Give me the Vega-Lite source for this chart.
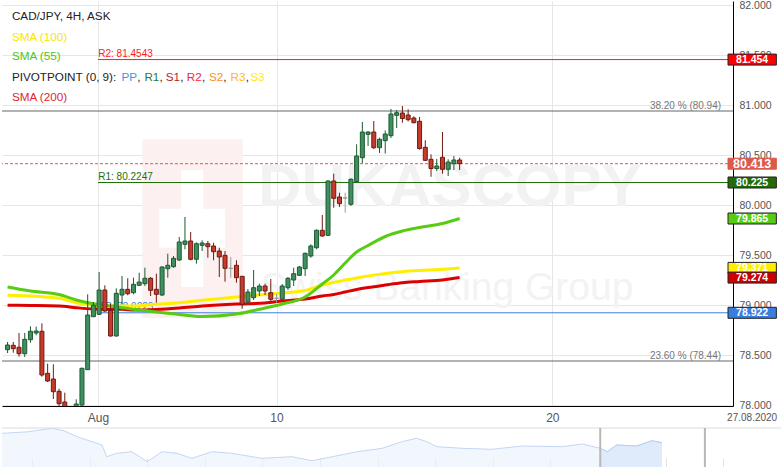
{
  "$schema": "https://vega.github.io/schema/vega-lite/v6.json",
  "padding": 0,
  "spacing": 3,
  "background": "white",
  "config": {"view": {"stroke": null}, "font": "Liberation Sans", "text": {"font": "Liberation Sans"}},
  "datasets": {
    "candles": [
      {"i":0,"o":78.553,"h":78.63,"l":78.52,"c":78.60},
      {"i":1,"o":78.597,"h":78.63,"l":78.523,"c":78.563},
      {"i":2,"o":78.577,"h":78.72,"l":78.483,"c":78.513},
      {"i":3,"o":78.513,"h":78.72,"l":78.48,"c":78.657},
      {"i":4,"o":78.653,"h":78.787,"l":78.623,"c":78.737},
      {"i":5,"o":78.72,"h":78.783,"l":78.697,"c":78.74},
      {"i":6,"o":78.737,"h":78.817,"l":78.283,"c":78.30},
      {"i":7,"o":78.317,"h":78.413,"l":78.23,"c":78.24},
      {"i":8,"o":78.26,"h":78.407,"l":78.06,"c":78.133},
      {"i":9,"o":78.137,"h":78.163,"l":77.973,"c":78.013},
      {"i":10,"o":78.03,"h":78.123,"l":77.92,"c":77.95},
      {"i":11,"o":77.95,"h":77.985,"l":77.86,"c":77.96},
      {"i":12,"o":77.96,"h":78.057,"l":77.93,"c":78.01},
      {"i":13,"o":78.0,"h":78.373,"l":77.97,"c":78.367},
      {"i":14,"o":78.353,"h":79.107,"l":78.35,"c":78.90},
      {"i":15,"o":78.883,"h":79.03,"l":78.88,"c":78.997},
      {"i":16,"o":78.907,"h":79.33,"l":78.9,"c":79.15},
      {"i":17,"o":79.15,"h":79.197,"l":78.93,"c":78.94},
      {"i":18,"o":78.947,"h":79.013,"l":78.683,"c":78.69},
      {"i":19,"o":78.69,"h":79.167,"l":78.685,"c":79.117},
      {"i":20,"o":79.10,"h":79.29,"l":79.007,"c":79.157},
      {"i":21,"o":79.157,"h":79.267,"l":79.097,"c":79.113},
      {"i":22,"o":79.123,"h":79.273,"l":79.107,"c":79.207},
      {"i":23,"o":79.197,"h":79.323,"l":79.19,"c":79.23},
      {"i":24,"o":79.213,"h":79.373,"l":79.19,"c":79.267},
      {"i":25,"o":79.267,"h":79.28,"l":79.09,"c":79.147},
      {"i":26,"o":79.157,"h":79.313,"l":79.023,"c":79.107},
      {"i":27,"o":79.10,"h":79.387,"l":79.09,"c":79.38},
      {"i":28,"o":79.363,"h":79.513,"l":79.273,"c":79.397},
      {"i":29,"o":79.383,"h":79.49,"l":79.373,"c":79.467},
      {"i":30,"o":79.45,"h":79.68,"l":79.44,"c":79.63},
      {"i":31,"o":79.607,"h":79.88,"l":79.557,"c":79.64},
      {"i":32,"o":79.64,"h":79.73,"l":79.447,"c":79.457},
      {"i":33,"o":79.457,"h":79.627,"l":79.413,"c":79.613},
      {"i":34,"o":79.597,"h":79.647,"l":79.54,"c":79.62},
      {"i":35,"o":79.613,"h":79.64,"l":79.473,"c":79.583},
      {"i":36,"o":79.59,"h":79.623,"l":79.447,"c":79.533},
      {"i":37,"o":79.54,"h":79.573,"l":79.28,"c":79.48},
      {"i":38,"o":79.497,"h":79.54,"l":79.233,"c":79.367},
      {"i":39,"o":79.367,"h":79.48,"l":79.273,"c":79.367},
      {"i":40,"o":79.397,"h":79.447,"l":79.223,"c":79.273},
      {"i":41,"o":79.287,"h":79.29,"l":78.963,"c":79.007},
      {"i":42,"o":79.03,"h":79.16,"l":79.0,"c":79.13},
      {"i":43,"o":79.073,"h":79.35,"l":79.05,"c":79.173},
      {"i":44,"o":79.14,"h":79.213,"l":79.09,"c":79.19},
      {"i":45,"o":79.19,"h":79.213,"l":79.10,"c":79.14},
      {"i":46,"o":79.123,"h":79.26,"l":79.04,"c":79.057},
      {"i":47,"o":79.067,"h":79.11,"l":79.023,"c":79.067},
      {"i":48,"o":79.057,"h":79.21,"l":79.05,"c":79.19},
      {"i":49,"o":79.173,"h":79.28,"l":79.15,"c":79.267},
      {"i":50,"o":79.25,"h":79.373,"l":79.19,"c":79.313},
      {"i":51,"o":79.297,"h":79.39,"l":79.29,"c":79.38},
      {"i":52,"o":79.363,"h":79.523,"l":79.29,"c":79.517},
      {"i":53,"o":79.49,"h":79.607,"l":79.473,"c":79.59},
      {"i":54,"o":79.573,"h":79.757,"l":79.557,"c":79.747},
      {"i":55,"o":79.747,"h":79.90,"l":79.683,"c":79.69},
      {"i":56,"o":79.697,"h":80.247,"l":79.69,"c":80.24},
      {"i":57,"o":80.24,"h":80.313,"l":79.973,"c":80.067},
      {"i":58,"o":80.08,"h":80.123,"l":79.98,"c":80.013},
      {"i":59,"o":80.07,"h":80.123,"l":79.923,"c":80.07},
      {"i":60,"o":80.007,"h":80.267,"l":79.99,"c":80.257},
      {"i":61,"o":80.233,"h":80.607,"l":80.223,"c":80.49},
      {"i":62,"o":80.473,"h":80.83,"l":80.42,"c":80.73},
      {"i":63,"o":80.707,"h":80.735,"l":80.59,"c":80.73},
      {"i":64,"o":80.73,"h":80.84,"l":80.56,"c":80.573},
      {"i":65,"o":80.573,"h":80.673,"l":80.52,"c":80.657},
      {"i":66,"o":80.643,"h":80.745,"l":80.515,"c":80.71},
      {"i":67,"o":80.693,"h":80.96,"l":80.67,"c":80.91},
      {"i":68,"o":80.897,"h":80.95,"l":80.77,"c":80.923},
      {"i":69,"o":80.92,"h":80.99,"l":80.823,"c":80.865},
      {"i":70,"o":80.90,"h":80.957,"l":80.835,"c":80.853},
      {"i":71,"o":80.87,"h":80.887,"l":80.817,"c":80.823},
      {"i":72,"o":80.837,"h":80.88,"l":80.553,"c":80.565},
      {"i":73,"o":80.577,"h":80.648,"l":80.44,"c":80.447},
      {"i":74,"o":80.457,"h":80.507,"l":80.282,"c":80.365},
      {"i":75,"o":80.365,"h":80.46,"l":80.34,"c":80.39},
      {"i":76,"o":80.477,"h":80.73,"l":80.313,"c":80.357},
      {"i":77,"o":80.357,"h":80.457,"l":80.29,"c":80.43},
      {"i":78,"o":80.413,"h":80.49,"l":80.35,"c":80.45},
      {"i":79,"o":80.45,"h":80.473,"l":80.35,"c":80.413}
    ],
    "sma": [
      {"i":0,"s55":79.18,"s100":79.097,"s200":78.997},
      {"i":4,"s55":79.14,"s100":79.09,"s200":78.995},
      {"i":9,"s55":79.105,"s100":79.067,"s200":78.99},
      {"i":12,"s55":79.05,"s100":79.023,"s200":78.973},
      {"i":15,"s55":79.013,"s100":78.997,"s200":78.96},
      {"i":17,"s55":78.997,"s100":78.99,"s200":78.957},
      {"i":20,"s55":78.973,"s100":78.99,"s200":78.957},
      {"i":22,"s55":78.957,"s100":78.99,"s200":78.95},
      {"i":26,"s55":78.93,"s100":79.007,"s200":78.955},
      {"i":30,"s55":78.905,"s100":79.023,"s200":78.97},
      {"i":34,"s55":78.885,"s100":79.047,"s200":78.99},
      {"i":40,"s55":78.91,"s100":79.08,"s200":79.01},
      {"i":45,"s55":78.97,"s100":79.105,"s200":79.02},
      {"i":48,"s55":79.01,"s100":79.12,"s200":79.04},
      {"i":52,"s55":79.08,"s100":79.145,"s200":79.06},
      {"i":55,"s55":79.21,"s100":79.20,"s200":79.09},
      {"i":57,"s55":79.30,"s100":79.225,"s200":79.105},
      {"i":59,"s55":79.42,"s100":79.25,"s200":79.13},
      {"i":61,"s55":79.53,"s100":79.27,"s200":79.155},
      {"i":63,"s55":79.595,"s100":79.29,"s200":79.175},
      {"i":66,"s55":79.685,"s100":79.315,"s200":79.20},
      {"i":69,"s55":79.74,"s100":79.333,"s200":79.223},
      {"i":72,"s55":79.775,"s100":79.345,"s200":79.235},
      {"i":76,"s55":79.815,"s100":79.357,"s200":79.25},
      {"i":79,"s55":79.865,"s100":79.371,"s200":79.274}
    ],
    "pivots": [
      {"k":"R2","p":81.4543,"t":"R2: 81.4543"},
      {"k":"R1","p":80.2247,"t":"R1: 80.2247"},
      {"k":"PP","p":78.9223,"t":"PP: 78.9223"}
    ],
    "fibs": [
      {"p":80.94,"t":"38.20 % (80.94)"},
      {"p":78.44,"t":"23.60 % (78.44)"}
    ],
    "boxes": [
      {"k":"R2","p":81.454,"t":"81.454"},
      {"k":"last","p":80.413,"t":"80.413"},
      {"k":"R1","p":80.225,"t":"80.225"},
      {"k":"S55","p":79.865,"t":"79.865"},
      {"k":"S100","p":79.371,"t":"79.371"},
      {"k":"S200","p":79.274,"t":"79.274"},
      {"k":"PP","p":78.922,"t":"78.922"}
    ],
    "nav": [
      {"n":0,"v":80.956},{"n":3.2,"v":81.1},{"n":6.4,"v":81.469},{"n":8.0,"v":81.2},{"n":9.6,"v":80.608},
      {"n":12.8,"v":79.756},{"n":13.4,"v":78.556},{"n":14.7,"v":78.905},{"n":16.6,"v":79.069},
      {"n":18.6,"v":78.044},{"n":20.5,"v":79.069},{"n":22.4,"v":78.905},{"n":24.3,"v":78.392},
      {"n":26.9,"v":79.069},{"n":29.4,"v":78.905},{"n":33.3,"v":78.392},{"n":37.1,"v":78.556},
      {"n":39.7,"v":78.146},{"n":42.3,"v":78.556},{"n":45.5,"v":79.069},{"n":48.7,"v":79.418},
      {"n":51.2,"v":80.095},{"n":53.1,"v":80.444},{"n":54.4,"v":80.095},{"n":55.7,"v":79.582},
      {"n":58.9,"v":79.418},{"n":62.7,"v":79.315},{"n":66.6,"v":79.654},{"n":71.7,"v":79.582},
      {"n":74.3,"v":79.859},{"n":76.6,"v":79.418},{"n":77.5,"v":79.069},{"n":78.7,"v":79.756},
      {"n":81.3,"v":79.654},{"n":83.2,"v":80.197},{"n":84.5,"v":79.992}
    ]
  },
  "vconcat": [
    {
      "width": 731,
      "height": 405,
      "layer": [
        {"data": {"name": "candles"}, "mark": {"type": "rule", "strokeWidth": 1, "opacity": 0},
         "encoding": {
           "x": {"field": "i", "type": "quantitative", "scale": {"domain": [-0.1, 125.9], "nice": false, "zero": false},
                 "axis": {"values": [15.8, 47, 95.2], "labelExpr": "datum.value < 30 ? 'Aug' : (datum.value < 70 ? '10' : '20')", "title": null, "grid": true, "gridColor": "#e6e6e6", "ticks": false, "domainColor": "#000000", "labelColor": "#555555", "labelFontSize": 12, "labelPadding": 6, "labelFlush": false}},
           "y": {"field": "l", "type": "quantitative", "scale": {"domain": [77.99, 82.04], "nice": false, "zero": false},
                 "axis": {"orient": "right", "values": [78, 78.5, 79, 79.5, 80, 80.5, 81, 81.5, 82], "format": ".3f", "title": null, "grid": true, "gridColor": "#e6e6e6", "ticks": false, "domainColor": "#000000", "labelColor": "#555555", "labelFontSize": 10.5, "labelPadding": 6}},
           "y2": {"field": "h"}
         }},
        {"data": {"values": [{}]}, "mark": {"type": "rect", "color": "#fcf0f0"},
         "encoding": {"x": {"datum": 23.57}, "x2": {"datum": 41.1}, "y": {"datum": 80.657}, "y2": {"datum": 78.87}}},
        {"data": {"values": [{}]}, "mark": {"type": "rect", "color": "#ffffff"},
         "encoding": {"x": {"datum": 30.36}, "x2": {"datum": 34.2}, "y": {"datum": 80.35}, "y2": {"datum": 79.18}}},
        {"data": {"values": [{}]}, "mark": {"type": "rect", "color": "#ffffff"},
         "encoding": {"x": {"datum": 26.5}, "x2": {"datum": 38.0}, "y": {"datum": 79.963}, "y2": {"datum": 79.573}}},
        {"data": {"values": [{}]}, "mark": {"type": "text", "text": "DUKASCOPY", "fontSize": 60, "fontWeight": "bold", "color": "#f2f2f2", "align": "center", "baseline": "middle"},
         "encoding": {"x": {"datum": 77.29}, "y": {"datum": 80.17}}},
        {"data": {"values": [{}]}, "mark": {"type": "text", "text": "Swiss Banking Group", "fontSize": 39, "color": "#f3f3f3", "align": "center", "baseline": "middle"},
         "encoding": {"x": {"datum": 76.78}, "y": {"datum": 79.17}}},
        {"data": {"name": "fibs"}, "mark": {"type": "rule", "color": "#666666", "strokeWidth": 1},
         "encoding": {"y": {"field": "p", "type": "quantitative"}}},
        {"data": {"name": "fibs"}, "mark": {"type": "text", "color": "#777777", "fontSize": 10, "align": "right", "baseline": "middle", "dy": -5.5},
         "encoding": {"x": {"datum": 124.69}, "y": {"field": "p", "type": "quantitative"}, "text": {"field": "t"}}},
        {"data": {"values": [{"p": 80.413}]}, "mark": {"type": "rule", "color": "#e0584a", "strokeWidth": 1, "strokeDash": [3, 2]},
         "encoding": {"y": {"field": "p", "type": "quantitative"}}},
        {"data": {"name": "pivots"}, "mark": {"type": "rule", "strokeWidth": 1},
         "encoding": {"x": {"datum": 15.8}, "x2": {"datum": 125.9}, "y": {"field": "p", "type": "quantitative"},
           "color": {"field": "k", "type": "nominal", "scale": {"domain": ["R2", "R1", "PP"], "range": ["#ff1a1a", "#1f6e06", "#3f82e0"]}, "legend": null}}},
        {"data": {"name": "pivots"}, "mark": {"type": "text", "fontSize": 10, "align": "left", "baseline": "middle", "dy": -5.5},
         "encoding": {"x": {"datum": 15.85}, "y": {"field": "p", "type": "quantitative"}, "text": {"field": "t"},
           "color": {"field": "k", "type": "nominal", "legend": null}}},
        {"data": {"name": "sma"}, "mark": {"type": "line", "color": "#dd0000", "strokeWidth": 3, "interpolate": "monotone", "clip": true},
         "encoding": {"x": {"field": "i", "type": "quantitative"}, "y": {"field": "s200", "type": "quantitative"}}},
        {"data": {"name": "sma"}, "mark": {"type": "line", "color": "#ffee00", "strokeWidth": 3, "interpolate": "monotone", "clip": true},
         "encoding": {"x": {"field": "i", "type": "quantitative"}, "y": {"field": "s100", "type": "quantitative"}}},
        {"data": {"name": "sma"}, "mark": {"type": "line", "color": "#58cc12", "strokeWidth": 3, "interpolate": "monotone", "clip": true},
         "encoding": {"x": {"field": "i", "type": "quantitative"}, "y": {"field": "s55", "type": "quantitative"}}},
        {"data": {"name": "candles"}, "mark": {"type": "rule", "strokeWidth": 1, "clip": true},
         "encoding": {"x": {"field": "i", "type": "quantitative"}, "y": {"field": "l", "type": "quantitative"}, "y2": {"field": "h"},
           "stroke": {"condition": [{"test": "datum.c > datum.o", "value": "#1c5a30"}, {"test": "datum.c < datum.o", "value": "#6e1a10"}], "value": "#999999"}}},
        {"data": {"name": "candles"}, "mark": {"type": "bar", "width": 4, "strokeWidth": 1, "clip": true},
         "encoding": {"x": {"field": "i", "type": "quantitative"}, "y": {"field": "o", "type": "quantitative"}, "y2": {"field": "c"},
           "fill": {"condition": [{"test": "datum.c > datum.o", "value": "#3f8f60"}, {"test": "datum.c < datum.o", "value": "#c63b2b"}], "value": "#999999"},
           "stroke": {"condition": [{"test": "datum.c > datum.o", "value": "#1c5a30"}, {"test": "datum.c < datum.o", "value": "#6e1a10"}], "value": "#999999"}}},
        {"data": {"values": [{}]}, "mark": {"type": "text", "text": "CAD/JPY, 4H, ASK", "fontSize": 11.7, "color": "#222222", "align": "left", "baseline": "middle"},
         "encoding": {"x": {"datum": 0.76}, "y": {"datum": 81.89}}},
        {"data": {"values": [{}]}, "mark": {"type": "text", "text": "SMA (100)", "fontSize": 11.7, "color": "#f7e600", "align": "left", "baseline": "middle"},
         "encoding": {"x": {"datum": 0.76}, "y": {"datum": 81.683}}},
        {"data": {"values": [{}]}, "mark": {"type": "text", "text": "SMA (55)", "fontSize": 11.7, "color": "#4cc81a", "align": "left", "baseline": "middle"},
         "encoding": {"x": {"datum": 0.76}, "y": {"datum": 81.49}}},
        {"data": {"values": [{}]}, "mark": {"type": "text", "text": "PIVOTPOINT (0, 9):", "fontSize": 11.7, "color": "#222222", "align": "left", "baseline": "middle"},
         "encoding": {"x": {"datum": 0.76}, "y": {"datum": 81.28}}},
        {"data": {"values": [{}]}, "mark": {"type": "text", "text": "SMA (200)", "fontSize": 11.7, "color": "#dd2a2a", "align": "left", "baseline": "middle"},
         "encoding": {"x": {"datum": 0.76}, "y": {"datum": 81.08}}},
        {"data": {"values": [{}]}, "mark": {"type": "text", "text": "PP", "fontSize": 11.7, "color": "#4a8fe8", "align": "left", "baseline": "middle"},
         "encoding": {"x": {"datum": 19.89}, "y": {"datum": 81.28}}},
        {"data": {"values": [{}]}, "mark": {"type": "text", "text": "R1", "fontSize": 11.7, "color": "#2d7a2d", "align": "left", "baseline": "middle"},
         "encoding": {"x": {"datum": 23.91}, "y": {"datum": 81.28}}},
        {"data": {"values": [{}]}, "mark": {"type": "text", "text": "S1", "fontSize": 11.7, "color": "#b22a2a", "align": "left", "baseline": "middle"},
         "encoding": {"x": {"datum": 27.65}, "y": {"datum": 81.28}}},
        {"data": {"values": [{}]}, "mark": {"type": "text", "text": "R2", "fontSize": 11.7, "color": "#ee2a2a", "align": "left", "baseline": "middle"},
         "encoding": {"x": {"datum": 31.32}, "y": {"datum": 81.28}}},
        {"data": {"values": [{}]}, "mark": {"type": "text", "text": "S2", "fontSize": 11.7, "color": "#ff8c26", "align": "left", "baseline": "middle"},
         "encoding": {"x": {"datum": 35.18}, "y": {"datum": 81.28}}},
        {"data": {"values": [{}]}, "mark": {"type": "text", "text": "R3", "fontSize": 11.7, "color": "#ffb81a", "align": "left", "baseline": "middle"},
         "encoding": {"x": {"datum": 38.98}, "y": {"datum": 81.28}}},
        {"data": {"values": [{}]}, "mark": {"type": "text", "text": "S3", "fontSize": 11.7, "color": "#ffe61a", "align": "left", "baseline": "middle"},
         "encoding": {"x": {"datum": 42.42}, "y": {"datum": 81.28}}},
        {"data": {"values": [{}]}, "mark": {"type": "text", "text": ",", "fontSize": 11.7, "color": "#222222", "align": "left", "baseline": "middle"},
         "encoding": {"x": {"datum": 22.65}, "y": {"datum": 81.28}}},
        {"data": {"values": [{}]}, "mark": {"type": "text", "text": ",", "fontSize": 11.7, "color": "#222222", "align": "left", "baseline": "middle"},
         "encoding": {"x": {"datum": 26.57}, "y": {"datum": 81.28}}},
        {"data": {"values": [{}]}, "mark": {"type": "text", "text": ",", "fontSize": 11.7, "color": "#222222", "align": "left", "baseline": "middle"},
         "encoding": {"x": {"datum": 30.19}, "y": {"datum": 81.28}}},
        {"data": {"values": [{}]}, "mark": {"type": "text", "text": ",", "fontSize": 11.7, "color": "#222222", "align": "left", "baseline": "middle"},
         "encoding": {"x": {"datum": 33.98}, "y": {"datum": 81.28}}},
        {"data": {"values": [{}]}, "mark": {"type": "text", "text": ",", "fontSize": 11.7, "color": "#222222", "align": "left", "baseline": "middle"},
         "encoding": {"x": {"datum": 37.70}, "y": {"datum": 81.28}}},
        {"data": {"values": [{}]}, "mark": {"type": "text", "text": ",", "fontSize": 11.7, "color": "#222222", "align": "left", "baseline": "middle"},
         "encoding": {"x": {"datum": 41.61}, "y": {"datum": 81.28}}},
        {"data": {"name": "boxes"}, "mark": {"type": "rect", "height": 11, "strokeWidth": 1},
         "encoding": {"x": {"datum": 125.9}, "x2": {"datum": 134.35}, "y": {"field": "p", "type": "quantitative"},
           "fill": {"field": "k", "type": "nominal", "scale": {"domain": ["R2", "last", "R1", "S55", "S100", "S200", "PP"], "range": ["#ff0000", "#dc5a4b", "#246b08", "#58cc12", "#ffee00", "#cc0000", "#3a7ddf"]}, "legend": null},
           "stroke": {"condition": {"test": "datum.k === 'last'", "value": "#dc5a4b"}, "value": "#222222"}}},
        {"data": {"name": "boxes"}, "mark": {"type": "text", "color": "#ffffff", "fontWeight": "bold", "align": "center", "baseline": "middle"},
         "encoding": {"x": {"datum": 130.12}, "y": {"field": "p", "type": "quantitative"}, "text": {"field": "t"},
           "size": {"condition": {"test": "datum.k === 'last'", "value": 12.5}, "value": 10.5}}},
        {"data": {"values": [{}]}, "mark": {"type": "text", "text": "27.08.2020", "fontSize": 10, "color": "#555555", "align": "center", "baseline": "middle"},
         "encoding": {"x": {"datum": 130.12}, "y": {"datum": 77.87}}}
      ]
    },
    {
      "width": 781,
      "height": 39,
      "layer": [
        {"data": {"name": "nav"}, "mark": {"type": "area", "color": "#ecf3fd", "line": {"color": "#c3d7f3", "strokeWidth": 1}},
         "encoding": {
           "x": {"field": "n", "type": "quantitative", "scale": {"domain": [0, 100], "nice": false, "zero": false},
                 "axis": {"orient": "bottom", "values": [3.84, 7.53, 11.22, 14.91, 18.6, 22.28, 25.97, 29.66, 33.35, 37.03, 40.72, 44.41, 48.1, 51.79, 55.47, 59.16, 62.85, 66.54, 70.23, 73.91, 77.6, 81.29, 84.98, 88.67, 92.35, 96.04, 99.73], "labels": false, "domain": false, "grid": false, "tickSize": -9, "tickColor": "#e2e2e2", "title": null}},
           "y": {"field": "v", "type": "quantitative", "scale": {"domain": [77.5, 81.5], "nice": false, "zero": false}, "axis": null}
         }},
        {"data": {"name": "nav"}, "transform": [{"filter": "datum.n >= 76.6"}], "mark": {"type": "area", "color": "#d7e5f9", "line": {"color": "#b9d0f1", "strokeWidth": 1}},
         "encoding": {"x": {"field": "n", "type": "quantitative"}, "y": {"field": "v", "type": "quantitative"}}},
        {"data": {"values": [{}]}, "mark": {"type": "rule", "color": "#dcdcdc", "strokeWidth": 1},
         "encoding": {"y": {"datum": 81.5}}},
        {"data": {"values": [{}]}, "mark": {"type": "rule", "color": "#b8b8b8", "strokeWidth": 2},
         "encoding": {"x": {"datum": 76.6}}},
        {"data": {"values": [{}]}, "mark": {"type": "rule", "color": "#b8b8b8", "strokeWidth": 2},
         "encoding": {"x": {"datum": 90.0}}}
      ]
    }
  ]
}
